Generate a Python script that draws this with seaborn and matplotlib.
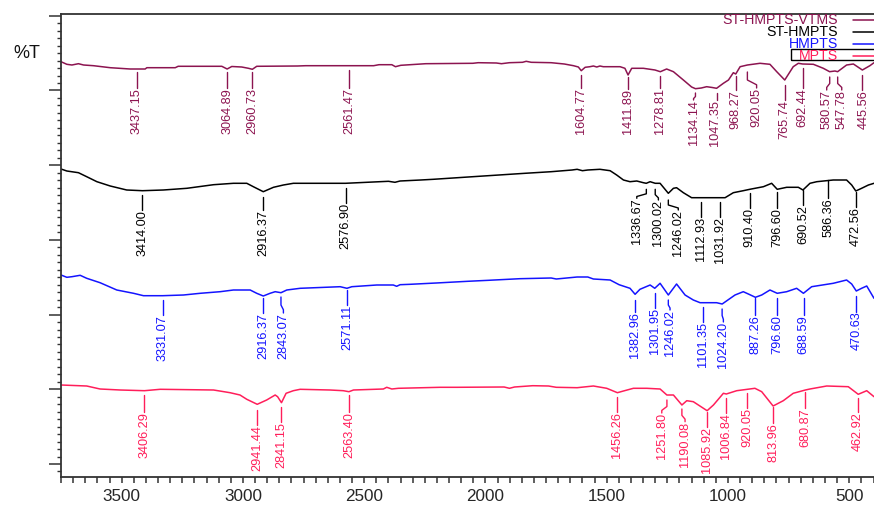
import numpy as np
import pandas as pd
import matplotlib
matplotlib.use("Agg")
import matplotlib.pyplot as plt
import seaborn as sns
from matplotlib.ticker import MultipleLocator, FixedLocator
from matplotlib.patches import Rectangle

# ---------------- data ----------------
series_names = ["ST-HMPTS-VTMS", "ST-HMPTS", "HMPTS", "MPTS"]
series_colors = ["#8C1450", "#000000", "#1414FF", "#FF1E5A"]

vtms_wn = [3750, 3726, 3705, 3678, 3657, 3616, 3547, 3465, 3437, 3403, 3396, 3279, 3267, 3087, 3065,
           3046, 3005, 2977, 2961, 2943, 2775, 2741, 2461, 2439, 2386, 2371, 2349, 2310, 2246, 2052,
           2030, 1955, 1934, 1901, 1847, 1832, 1811, 1729, 1675, 1637, 1617, 1605, 1589, 1569, 1555,
           1541, 1528, 1514, 1445, 1425, 1412, 1397, 1349, 1301, 1279, 1253, 1225, 1184, 1150, 1134,
           1110, 1088, 1065, 1047, 1019, 998, 978, 968, 950, 920, 868, 827, 799, 766, 731, 710, 692,
           648, 607, 581, 559, 548, 511, 483, 446, 415, 398]
vtms_t = [415.3, 412.7, 412, 413.3, 412, 411.3, 409.3, 408, 408, 408, 409.3, 409.3, 410.7, 410.7, 408,
          410.5, 410, 408.7, 407.7, 410.7, 411, 411.3, 411.3, 412.3, 412.3, 410.3, 411.7, 412.3, 413.3, 413.7,
          414.3, 414, 413.3, 414.3, 414.7, 415.7, 414.7, 414.3, 413, 411.3, 410, 406.3, 409.7, 410.3, 411,
          410, 411, 410.3, 410.3, 408.7, 402, 408.7, 408.7, 407, 405.3, 408, 405.3, 397, 390, 388.3,
          389, 390.3, 389.5, 388.7, 393.7, 397, 404.3, 403, 410.3, 412, 413.7, 412.7, 405.3, 397, 410.3, 413.7, 413,
          412.7, 408.7, 405.3, 406, 405.3, 412, 413, 407, 411.3, 414.3]

sthm_wn = [3750, 3726, 3678, 3644, 3602, 3547, 3479, 3414, 3328, 3231, 3121, 3039, 2984, 2957, 2916,
           2874, 2833, 2792, 2577, 2489, 2400, 2373, 2352, 2267, 2215, 2052, 1837, 1729, 1643, 1622,
           1600, 1578, 1528, 1486, 1459, 1431, 1404, 1376, 1349, 1337, 1321, 1300, 1280, 1246, 1225,
           1212, 1184, 1150, 1113, 1032, 1012, 978, 937, 910, 854, 820, 797, 758, 710, 691, 662, 634,
           566, 511, 490, 473, 449, 421, 398]
sthm_t = [308, 306, 304.3, 300.3, 295.3, 291, 287, 286.3, 287, 288.7, 292.3, 293.7, 293.7, 290.3, 285.3,
          289.7, 292, 293.7, 293.7, 294.7, 295.7, 294.7, 296, 297, 297.7, 300.3, 303.7, 305.3, 307, 307.7,
          306.3, 307, 307.7, 306.3, 302, 297, 295.3, 296, 294.3, 293.7, 295.3, 293.7, 293.7, 283.7, 288.7,
          289.3, 284.3, 279.3, 279.3, 279.3, 279.3, 284.3, 286.3, 287.7, 290.3, 293.7, 287.7, 289.7, 289.7, 287, 293.7, 295.3,
          297, 297, 292, 286, 288.7, 292, 293.7]

hm_wn = [3750, 3726, 3705, 3671, 3644, 3589, 3520, 3451, 3410, 3331, 3245, 3176, 3094, 3039, 2970,
         2943, 2916, 2888, 2867, 2843, 2819, 2764, 2599, 2571, 2551, 2448, 2380, 2366, 2352, 2310,
         2203, 2073, 1987, 1858, 1729, 1708, 1622, 1578, 1555, 1486, 1449, 1404, 1383, 1363, 1321,
         1302, 1280, 1246, 1212, 1177, 1143, 1115, 1047, 1024, 971, 937, 916, 887, 861, 827, 797,
         758, 717, 689, 655, 566, 511, 490, 471, 449, 428, 398]
hm_t = [202, 199.7, 200.3, 201.7, 198.7, 194.3, 187, 183.7, 181.3, 181.3, 182, 183.7, 185.3, 187, 187,
        183.7, 181, 183.7, 185.3, 184.3, 187, 188.7, 190.3, 188.7, 190.3, 192, 192, 190.7, 192.3, 192.7,
        194, 195.7, 196.7, 198.3, 199, 198, 200, 200, 198, 197, 192.3, 188.7, 182.7, 187.7, 192,
        188.7, 193.7, 182, 193, 182, 177, 174.3, 174.3, 173, 182, 185.3, 183, 179.7, 182, 187, 183.7,
        185.3, 188.7, 183.7, 190.3, 193.7, 197, 193, 186, 188.7, 191, 178.7]

mp_wn = [3750, 3644, 3589, 3506, 3406, 3341, 3121, 3053, 3012, 2984, 2941, 2902, 2867, 2857, 2841,
         2822, 2792, 2764, 2641, 2586, 2563, 2544, 2421, 2407, 2386, 2359, 2187, 2117, 1923, 1901,
         1880, 1805, 1740, 1708, 1622, 1555, 1500, 1456, 1431, 1390, 1335, 1280, 1252, 1225, 1190,
         1170, 1143, 1086, 1060, 1019, 1007, 964, 920, 889, 861, 814, 772, 731, 681, 662, 593, 504,
         463, 428, 398]
mp_t = [92, 91, 88, 87, 86.3, 87.7, 87, 84.3, 82, 77.7, 72.7, 77, 82, 80.3, 74.3,
        83.7, 86.3, 87.7, 87, 86.3, 85.3, 87, 88, 89.7, 88, 88.7, 89.7, 89.7, 90, 88.7,
        90, 91.3, 91, 89.7, 89.3, 91, 88.7, 84.3, 86, 88.7, 88.7, 88, 82, 82, 72,
        76.3, 75.3, 66.3, 72, 83.7, 83, 86.3, 87.7, 88.7, 85.3, 71, 76.3, 83.7, 87, 88, 91, 90.3,
        82.7, 86.3, 80.3]

# peak annotations (label text values)
vtms_peaks = ["3437.15", "3064.89", "2960.73", "2561.47", "1604.77", "1411.89", "1278.81", "1134.14",
              "1047.35", "968.27", "920.05", "765.74", "692.44", "580.57", "547.78", "445.56"]
sthm_peaks = ["3414.00", "2916.37", "2576.90", "1336.67", "1300.02", "1246.02", "1112.93", "1031.92",
              "910.40", "796.60", "690.52", "586.36", "472.56"]
hm_peaks = ["3331.07", "2916.37", "2843.07", "2571.11", "1382.96", "1301.95", "1246.02", "1101.35",
            "1024.20", "887.26", "796.60", "688.59", "470.63"]
mp_peaks = ["3406.29", "2941.44", "2841.15", "2563.40", "1456.26", "1251.80", "1190.08", "1085.92",
            "1006.84", "920.05", "813.96", "680.87", "462.92"]

# annotation layout: text x position, leader top, text top (data units)
vtms_lab_x = [3437, 3065, 2961, 2561, 1605, 1412, 1279, 1142, 1052, 968, 882, 766, 692, 593, 531, 442]
vtms_lead = [405.3, 405, 405, 407, 402, 400, 401, 384, 384, 401, 405, 392, 409, 400, 400, 402]
vtms_txt = [388.7, 388.7, 388.7, 389, 388.5, 388, 388.5, 377, 377, 387, 389, 377, 389, 387, 387, 387]

sthm_lab_x = [3414, 2916, 2577, 1376, 1287, 1205, 1113, 1032, 910, 797, 691, 586, 473]
sthm_lead = [282, 280.3, 289, 287.7, 287.7, 277, 275.3, 275.3, 283.7, 285.3, 287, 297, 285.3]
sthm_txt = [267, 267, 274, 278.7, 277, 267, 260.3, 260.3, 268.7, 268.7, 272, 278.7, 270.3]

hm_lab_x = [3331, 2916, 2833, 2571, 1383, 1302, 1239, 1101, 1019, 887, 797, 689, 471]
hm_lead = [177, 179, 180, 187, 177, 184, 177, 170.3, 168, 179, 179, 179, 181]
hm_txt = [162, 164, 164, 172, 165.3, 169, 167, 155.3, 155, 162, 162, 162, 165.3]

mp_lab_x = [3406, 2941, 2841, 2563, 1456, 1273, 1177, 1086, 1007, 920, 814, 681, 463]
mp_lead = [82, 67, 70, 82, 80.3, 77, 68, 65.3, 79, 84, 70, 85.3, 79]
mp_txt = [65.3, 52, 55.3, 65.3, 65.3, 64, 55.3, 50.3, 63.7, 69, 54, 69, 65.3]

x_major = [3500, 3000, 2500, 2000, 1500, 1000, 500]

# ---------------- build ----------------
frames = []
for name, wn, t in zip(series_names, [vtms_wn, sthm_wn, hm_wn, mp_wn], [vtms_t, sthm_t, hm_t, mp_t]):
    frames.append(pd.DataFrame({"wn": wn, "T": t, "series": name}))
df = pd.concat(frames, ignore_index=True)

sns.set_style("ticks")
plt.rcParams["font.family"] = ["Liberation Sans", "DejaVu Sans"]

fig = plt.figure(figsize=(8.74, 5.05), dpi=100)
ax = fig.add_axes([61 / 874, 28 / 505, 813 / 874, 463 / 505])

sns.lineplot(data=df, x="wn", y="T", hue="series", hue_order=series_names,
             palette=series_colors, estimator=None, legend=False, linewidth=1.1, ax=ax)

ax.set_xlim(3750, 398)
ax.set_ylim(0, 463)
ax.set_xlabel("")
ax.set_ylabel("")

# annotations
ann = [(vtms_peaks, vtms_lab_x, vtms_lead, vtms_txt, series_colors[0]),
       (sthm_peaks, sthm_lab_x, sthm_lead, sthm_txt, series_colors[1]),
       (hm_peaks, hm_lab_x, hm_lead, hm_txt, series_colors[2]),
       (mp_peaks, mp_lab_x, mp_lead, mp_txt, series_colors[3])]
for peaks, labx, lead, txt, col in ann:
    for p, lx, ly, ty in zip(peaks, labx, lead, txt):
        pv = float(p)
        if abs(lx - pv) < 5:
            ax.plot([pv, pv], [ly, ty], color=col, lw=1.0, clip_on=False)
        else:
            span = ly - ty
            ax.plot([pv, pv, lx, lx], [ly, ly - 0.5 * span, ty + 0.2 * span, ty],
                    color=col, lw=1.0, clip_on=False)
        ax.text(lx, ty, p, rotation=90, ha="center", va="top", color=col,
                fontsize=9.2)

# axes styling
for s in ["top", "left", "bottom"]:
    ax.spines[s].set_color("#333333")
    ax.spines[s].set_linewidth(1.3)
ax.spines["right"].set_visible(False)

ax.xaxis.set_major_locator(FixedLocator(x_major))
ax.xaxis.set_minor_locator(MultipleLocator(50))
ax.tick_params(axis="x", which="both", direction="out", length=4.3, width=1.1,
               color="#333333", labelsize=12.3, pad=4)
ax.yaxis.set_major_locator(FixedLocator(list(13 + 74.7 * np.arange(7))))
ax.yaxis.set_minor_locator(FixedLocator(list(13 - 7.47 + 7.47 * np.arange(62))))
ax.tick_params(axis="y", which="major", direction="out", length=8.6, width=1.1,
               color="#333333", labelleft=False)
ax.tick_params(axis="y", which="minor", direction="out", length=3.2, width=1.0,
               color="#333333")

# legend (text left of line, right-aligned)
leg_y = [0.987, 0.961, 0.935, 0.909]
for name, col, yy in zip(series_names, series_colors, leg_y):
    ax.text(0.9557, yy, name, transform=ax.transAxes, ha="right", va="center",
            color=col, fontsize=10.2)
    ax.plot([0.974, 1.0], [yy, yy], transform=ax.transAxes, color=col, lw=1.1, clip_on=False)
ax.add_patch(Rectangle((0.8975, 0.9006), 0.11, 0.0232, transform=ax.transAxes,
                       fill=False, edgecolor="black", lw=1.0, clip_on=False))

fig.text(27 / 874, 1 - 54 / 505, "%T", ha="center", va="center", fontsize=13, color="#111111")

fig.savefig("out.png", dpi=100)
